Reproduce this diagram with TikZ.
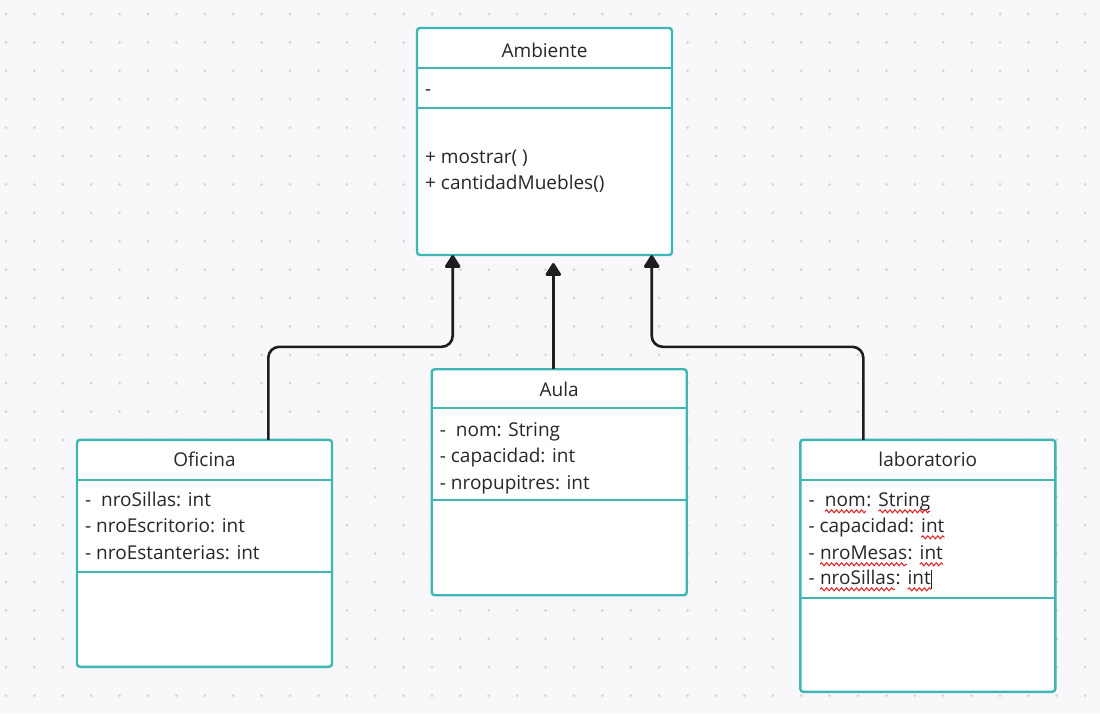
\documentclass[tikz,border=0pt]{standalone}
\usepackage{fontspec}
\setmainfont{Open Sans}
\usepackage{xcolor}
\usetikzlibrary{calc,arrows.meta,decorations.pathmorphing}

\definecolor{umlteal}{RGB}{62,182,180}
\definecolor{txtgray}{RGB}{38,38,44}
\definecolor{arrowgray}{RGB}{30,30,32}
\definecolor{canvas}{RGB}{248,248,250}
\definecolor{griddot}{RGB}{212,212,216}
\definecolor{spellred}{RGB}{225,30,30}

\newcommand{\umlfont}{\fontsize{19}{23}\selectfont}
% red wavy underline of the spell checker
\newcommand{\squig}[1]{\tikz[baseline=(sq.base)]{\node[inner sep=0pt,outer sep=0pt,anchor=base] (sq) {#1};
  \draw[spellred,line width=1pt,decorate,decoration={snake,amplitude=1.5pt,segment length=5pt}]
    ([yshift=-4.5pt]sq.base west) -- ([yshift=-4.5pt]sq.base east);}}

\tikzset{
  umlbox/.style={draw=umlteal, line width=2.4pt, rounded corners=3pt, fill=white,
    minimum width=255pt, outer sep=0pt, inner sep=0pt},
  divider/.style={draw=umlteal, line width=2.4pt},
  inherit/.style={draw=arrowgray, line width=2.6pt, rounded corners=11pt,
    -{Triangle[length=14pt,width=17pt,round=false]}},
  title/.style={anchor=base, inner sep=0pt, font=\umlfont, text=txtgray},
  attr/.style={anchor=base west, inner sep=0pt, font=\umlfont, text=txtgray},
}

\begin{document}
\begin{tikzpicture}[x=1pt,y=-1pt]
  % canvas with dotted grid
  \fill[canvas] (0,0) rectangle (1100,713);
  \useasboundingbox (0,0) rectangle (1100,713);
  \foreach \i in {0,...,38}
    \foreach \j in {0,...,24}
      \fill[griddot] (6+28.4*\i,14+28.4*\j) circle (1.5);

  % classes
  \node[umlbox, minimum height=227pt] (amb) at (544.5,141.5) {};
  \node[umlbox, minimum height=226pt] (aul) at (559.2,482.2) {};
  \node[umlbox, minimum height=227pt] (ofi) at (204.5,553.3) {};
  \node[umlbox, minimum height=252pt] (lab) at (927.8,565.8) {};

  \foreach \b/\d in {amb/40, amb/80, aul/39, aul/131, ofi/40, ofi/132, lab/40, lab/158}
    \draw[divider] ($(\b.north west)+(0,\d)$) -- ($(\b.north east)+(0,\d)$);

  % Ambiente
  \node[title] (ambT) at ($(amb.north)+(0,29)$) {Ambiente};
  \node[attr] (ambA) at ($(amb.north west)+(8,67)$) {-};
  \node[attr] (ambM1) at ($(amb.north west)+(8,135)$) {+ mostrar( )};
  \node[attr] (ambM2) at ($(amb.north west)+(8,161)$) {+ cantidadMuebles()};

  % Aula
  \node[title] (aulT) at ($(aul.north)+(0,27.5)$) {Aula};
  \node[attr] (aulA1) at ($(aul.north west)+(8,67.5)$) {-~ nom: String};
  \node[attr] (aulA2) at ($(aul.north west)+(8,93)$) {- capacidad: int};
  \node[attr] (aulA3) at ($(aul.north west)+(8,120)$) {- nropupitres: int};

  % Oficina
  \node[title] (ofiT) at ($(ofi.north)+(0,27)$) {Oficina};
  \node[attr] (ofiA1) at ($(ofi.north west)+(8,67)$) {-~ nroSillas: int};
  \node[attr] (ofiA2) at ($(ofi.north west)+(8,93)$) {- nroEscritorio: int};
  \node[attr] (ofiA3) at ($(ofi.north west)+(8,120)$) {- nroEstanterias: int};

  % laboratorio
  \node[title] (labT) at ($(lab.north)+(0,27)$) {laboratorio};
  \node[attr] (labA1) at ($(lab.north west)+(8,67)$) {-~ \squig{nom}: \squig{String}};
  \node[attr] (labA2) at ($(lab.north west)+(8,93)$) {- capacidad: \squig{int}};
  \node[attr] (labA3) at ($(lab.north west)+(8,120)$) {- \squig{nroMesas}: \squig{int}};
  \node[attr] (labA4) at ($(lab.north west)+(8,145)$) {- \squig{nroSillas}: \squig{int}\rule[-4pt]{0.8pt}{19pt}};

  % generalizations
  \draw[inherit] ([xshift=63.8pt]ofi.north) -- ++(0,-93) -| ([xshift=-91.8pt]amb.south);
  \draw[inherit] ([xshift=-5.9pt]aul.north) -- ([xshift=8.8pt,yshift=-8pt]amb.south);
  \draw[inherit] ([xshift=-64.5pt]lab.north) -- ++(0,-93) -| ([xshift=107.2pt]amb.south);
\end{tikzpicture}
\end{document}
